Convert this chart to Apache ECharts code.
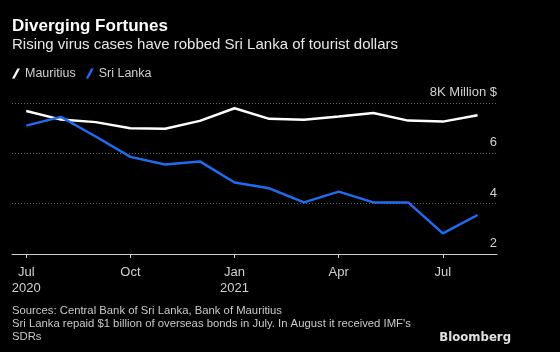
<!DOCTYPE html>
<html>
<head>
<meta charset="utf-8">
<script src="https://cdn.jsdelivr.net/npm/echarts@6/dist/echarts.min.js"></script>
<style>
  html, body { margin: 0; padding: 0; background: #000; }
  #main { width: 560px; height: 352px; }
</style>
</head>
<body>
<div id="main"></div>
<script>
  // months from Jul 2020 to Aug 2021
  const months = ['Jul 2020', 'Aug 2020', 'Sep 2020', 'Oct 2020', 'Nov 2020', 'Dec 2020',
    'Jan 2021', 'Feb 2021', 'Mar 2021', 'Apr 2021', 'May 2021', 'Jun 2021', 'Jul 2021', 'Aug 2021'];
  const mauritius = [7.68, 7.34, 7.24, 7.0, 6.98, 7.29, 7.79, 7.37, 7.33, 7.46, 7.6, 7.3, 7.26, 7.51];
  const sriLanka = [7.1, 7.45, 6.67, 5.86, 5.56, 5.68, 4.84, 4.61, 4.05, 4.48, 4.05, 4.05, 2.82, 3.55];
  const tickIdx = [0, 3, 6, 9, 12];
  const tickLabels = ['Jul\n2020', 'Oct', 'Jan\n2021', 'Apr', 'Jul'];

  const font = '"Liberation Sans", Arial, sans-serif';
  const chart = echarts.init(document.getElementById('main'));

  const slash = 'path://M0,10 L2.6,10 L8,0 L5.4,0 Z';

  chart.setOption({
    backgroundColor: '#000',
    animation: false,
    textStyle: { fontFamily: font },
    title: [
      { text: 'Diverging Fortunes', left: 12, top: 18, padding: 0,
        textStyle: { color: '#fff', fontSize: 17, fontWeight: 'bold', fontFamily: font } },
      { text: 'Rising virus cases have robbed Sri Lanka of tourist dollars', left: 12, top: 37, padding: 0,
        textStyle: { color: '#e6e6e6', fontSize: 15, fontWeight: 'normal', fontFamily: font } },
      { text: 'Sources: Central Bank of Sri Lanka, Bank of Mauritius\nSri Lanka repaid $1 billion of overseas bonds in July. In August it received IMF\'s\nSDRs',
        left: 12, top: 304, padding: 0,
        textStyle: { color: '#c8c8c8', fontSize: 11.3, fontWeight: 'normal', lineHeight: 13.3, fontFamily: font } },
      { text: 'Bloomberg', right: 49, top: 331, padding: 0,
        textStyle: { color: '#e0e0e0', fontSize: 13, fontWeight: 'bold',
          fontFamily: '"Liberation Sans Narrow", "DejaVu Sans Condensed", sans-serif' } }
    ],
    legend: {
      left: 12, top: 67, padding: 0,
      itemWidth: 8, itemHeight: 10, itemGap: 10,
      textStyle: { color: '#d0d0d0', fontSize: 12.5, fontFamily: font },
      data: [
        { name: 'Mauritius', icon: slash, itemStyle: { color: '#fff' } },
        { name: 'Sri Lanka', icon: slash, itemStyle: { color: '#1f6cf0' } }
      ]
    },
    grid: { left: 12, right: 63, top: 103, bottom: 98 },
    xAxis: {
      type: 'value',
      min: -0.41, max: 13.56,
      splitLine: { show: false },
      axisLine: { lineStyle: { color: '#cfcfcf', width: 1 } },
      axisTick: { show: true, customValues: tickIdx, length: 4, lineStyle: { color: '#cfcfcf' } },
      axisLabel: {
        customValues: tickIdx,
        color: '#d0d0d0', fontSize: 13, lineHeight: 16, margin: 10, fontFamily: font,
        formatter: v => tickLabels[tickIdx.indexOf(Math.round(v))] || ''
      }
    },
    yAxis: {
      type: 'value',
      position: 'right',
      min: 2, max: 8, interval: 2,
      axisLine: { show: false },
      axisTick: { show: false },
      splitLine: { lineStyle: { color: '#6a6a6a', type: [1, 2], width: 1 } },
      axisLabel: {
        inside: true, margin: 0, verticalAlign: 'bottom', padding: [0, 0, 4, 0],
        color: '#d0d0d0', fontSize: 13, fontFamily: font,
        formatter: v => v === 8 ? '8K Million $' : String(v)
      }
    },
    series: [
      {
        name: 'Mauritius', type: 'line', symbol: 'none',
        lineStyle: { color: '#fff', width: 2.5 },
        itemStyle: { color: '#fff' },
        data: mauritius.map((v, i) => [i, v])
      },
      {
        name: 'Sri Lanka', type: 'line', symbol: 'none',
        lineStyle: { color: '#1f6cf0', width: 2.5 },
        itemStyle: { color: '#1f6cf0' },
        data: sriLanka.map((v, i) => [i, v])
      }
    ]
  });
</script>
</body>
</html>
